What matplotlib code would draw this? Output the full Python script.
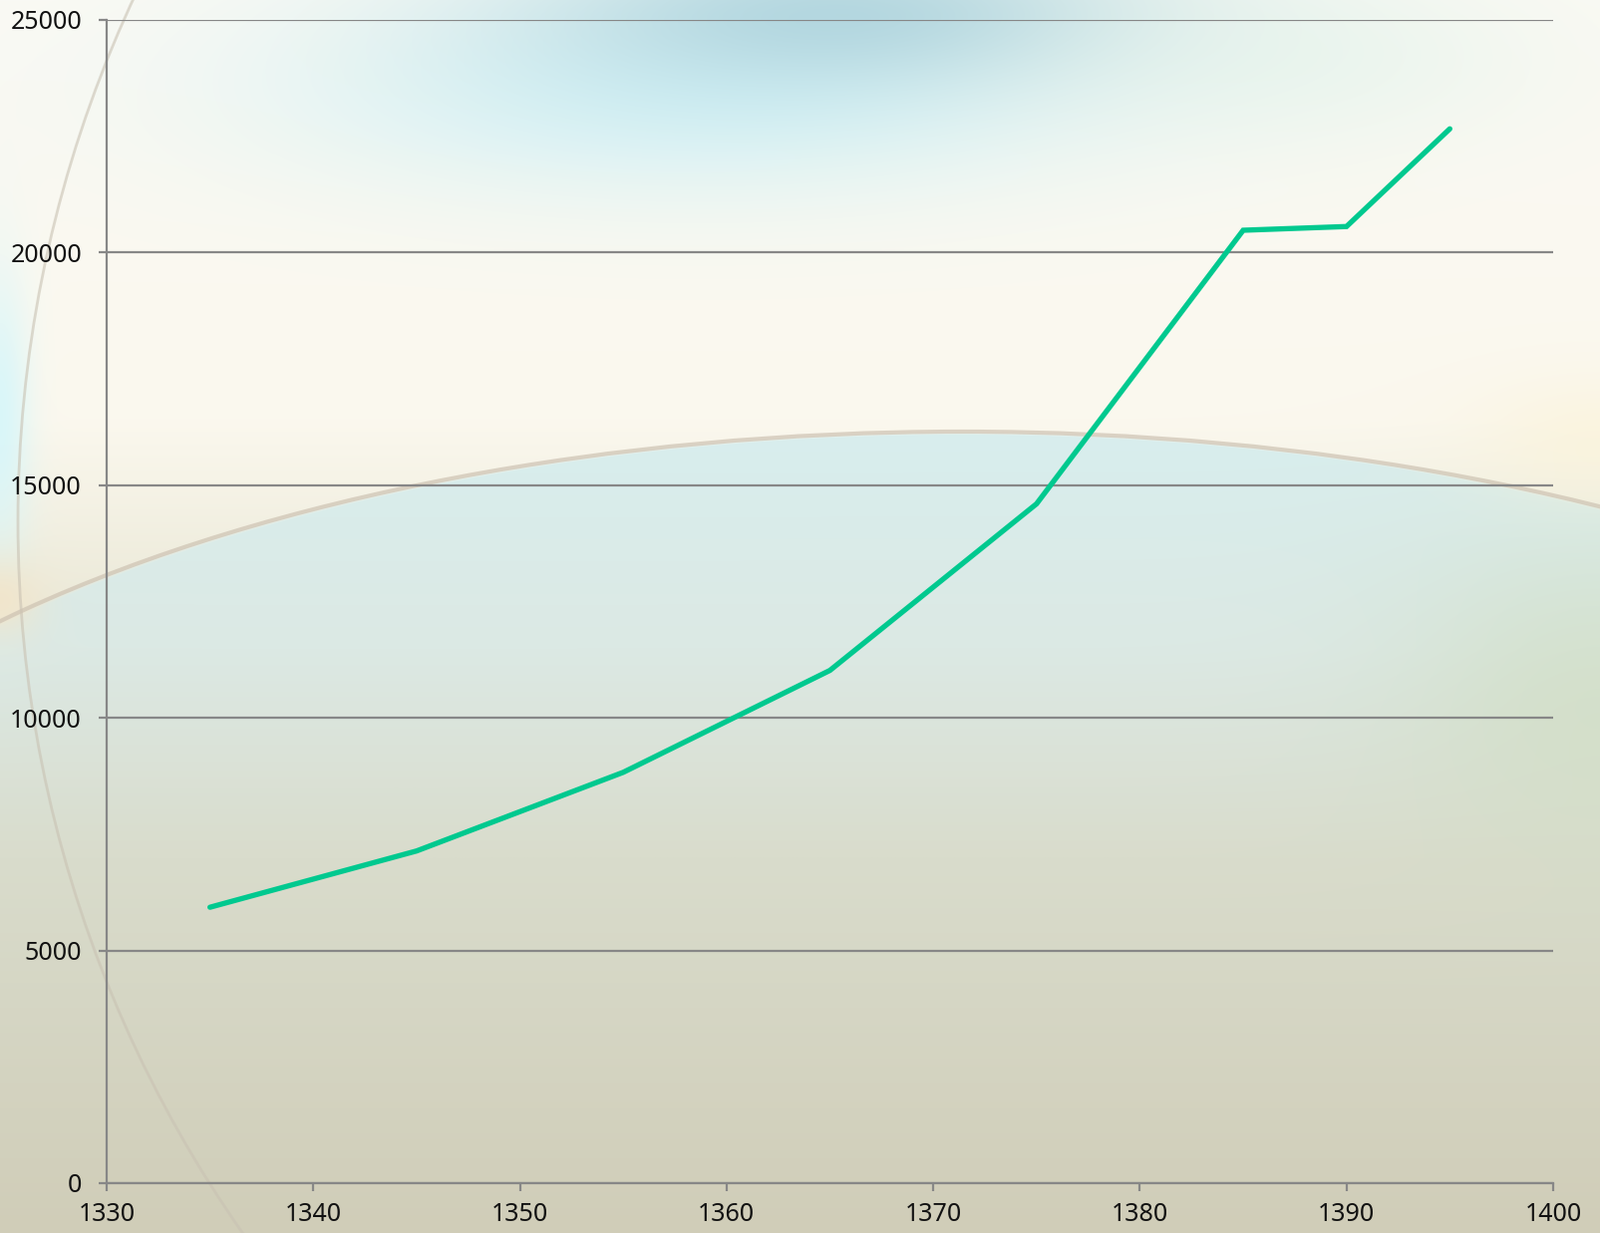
import numpy as np
import matplotlib
matplotlib.use("Agg")
import matplotlib.pyplot as plt
from matplotlib.patches import Circle, Ellipse
from matplotlib.colors import to_rgb

plt.rcParams["font.family"] = ["Noto Sans", "DejaVu Sans"]

# data
years = [1335, 1345, 1355, 1365, 1375, 1385, 1390, 1395]
values = [5930, 7140, 8830, 11020, 14600, 20480, 20560, 22660]
x_ticks = [1330, 1340, 1350, 1360, 1370, 1380, 1390, 1400]
y_ticks = [0, 5000, 10000, 15000, 20000, 25000]

W, H = 1605, 1237
LINE_COLOR = "#00c98f"
GRID_COLOR = "#878787"
ELL = (965, 1043, 1330, 610)  # centre x, centre y, semi-axes in figure pixels


def _gradient(yy, stops):
    pos = np.array([s[0] for s in stops], dtype=float)
    cols = np.array([to_rgb(s[1]) for s in stops])
    out = np.zeros(yy.shape + (3,))
    for c in range(3):
        out[..., c] = np.interp(yy, pos, cols[:, c])
    return out


def _blob(img, xx, yy, cx, cy, sx, sy, color, peak):
    a = peak * np.exp(-(((xx - cx) / sx) ** 2 + ((yy - cy) / sy) ** 2))
    col = np.array(to_rgb(color))
    return img * (1 - a[..., None]) + col * a[..., None]


def _background():
    yy, xx = np.mgrid[0:H, 0:W].astype(float)
    outside = _gradient(yy, [(0, "#fbfaf4"), (420, "#fbf8ee"), (640, "#e9e7d5"), (1237, "#d3d0bb")])
    inside = _gradient(yy, [(430, "#d8eeee"), (650, "#dce9e4"), (860, "#d9dccc"), (1237, "#d0cdb8")])
    ecx, ecy, ea, eb = ELL
    r = np.sqrt(((xx - ecx) / ea) ** 2 + ((yy - ecy) / eb) ** 2)
    m = np.clip((1 - r) * 200, 0, 1)[..., None]
    img = outside * (1 - m) + inside * m
    # cyan glow along the top
    img = _blob(img, xx, yy, 700, 90, 420, 110, "#cdeff5", 0.85)
    img = _blob(img, xx, yy, 850, 15, 320, 75, "#a3cdd9", 0.75)
    img = _blob(img, xx, yy, 1300, 60, 250, 90, "#e2f3ea", 0.5)
    # cyan strip on the left edge, peach band below it
    img = _blob(img, xx, yy, 0, 420, 30, 150, "#d6f6fa", 0.9)
    img = _blob(img, xx, yy, 0, 600, 40, 40, "#f3e4c8", 0.8)
    # greenish tint on the right
    img = _blob(img, xx, yy, 1605, 700, 200, 160, "#cfdcbf", 0.6)
    img = _blob(img, xx, yy, 1605, 440, 120, 60, "#fbf3da", 0.7)
    return np.clip(img, 0, 1)


fig = plt.figure(figsize=(W / 100, H / 100), dpi=100)

bg = fig.add_axes([0, 0, 1, 1])
bg.imshow(_background(), extent=(0, W, H, 0), aspect="auto", interpolation="bilinear")
bg.add_patch(Circle((1262, 523), 1244, fill=False, edgecolor="#c9c2b3", linewidth=2.0, alpha=0.6))
bg.add_patch(Ellipse(ELL[:2], 2 * ELL[2], 2 * ELL[3], fill=False, edgecolor="#cdc2b2", linewidth=3, alpha=0.7))
bg.set_xlim(0, W)
bg.set_ylim(H, 0)
bg.axis("off")

ax = fig.add_axes([107 / W, 1 - 1187 / H, (1558 - 107) / W, (1187 - 20) / H])
ax.set_facecolor("none")
ax.plot(years, values, color=LINE_COLOR, linewidth=3.8, solid_capstyle="round", solid_joinstyle="miter", zorder=3)

ax.set_xlim(1330, 1400)
ax.set_ylim(0, 25000)
ax.set_xticks(x_ticks)
ax.set_yticks(y_ticks)
ax.grid(True, axis="y", color=GRID_COLOR, linewidth=1.6)
ax.set_axisbelow(True)
for side in ["top", "right"]:
    ax.spines[side].set_visible(False)
for side in ["left", "bottom"]:
    ax.spines[side].set_color(GRID_COLOR)
    ax.spines[side].set_linewidth(1.6)
ax.tick_params(axis="both", direction="out", length=6, width=1.6, color=GRID_COLOR,
               labelsize=18, labelcolor="#111111")
ax.tick_params(axis="y", pad=12)
ax.tick_params(axis="x", pad=8)

fig.savefig("out.png", dpi=100)
